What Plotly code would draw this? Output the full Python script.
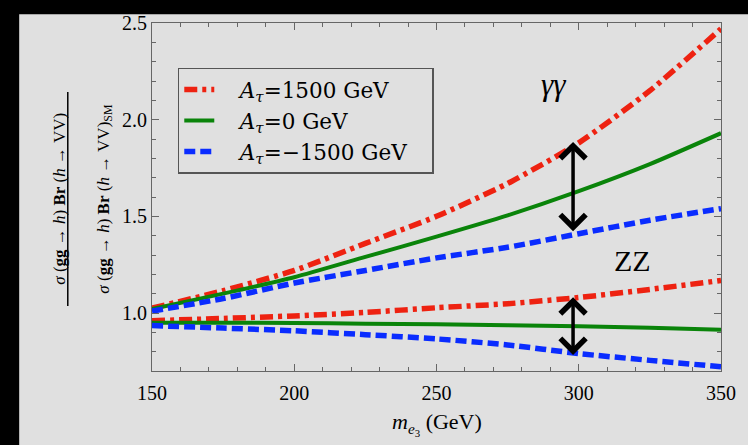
import plotly.graph_objects as go

# ---- data ----
m_e3 = [150, 175, 200, 225, 250, 275, 300, 325, 350]

gg_At_p1500 = [1.025, 1.115, 1.22, 1.36, 1.50, 1.67, 1.88, 2.15, 2.47]
gg_At_0 = [1.02, 1.10, 1.185, 1.29, 1.395, 1.505, 1.63, 1.77, 1.93]
gg_At_m1500 = [1.01, 1.075, 1.155, 1.22, 1.285, 1.34, 1.41, 1.48, 1.54]

zz_At_p1500 = [0.96, 0.972, 0.985, 1.003, 1.027, 1.048, 1.08, 1.122, 1.168]
zz_At_0 = [0.95, 0.95, 0.948, 0.945, 0.942, 0.937, 0.932, 0.924, 0.914]
zz_At_m1500 = [0.935, 0.922, 0.908, 0.888, 0.866, 0.835, 0.79, 0.755, 0.722]

legend_names = ["\u00a0\u00a0\u00a0<i>A</i><sub><i>τ</i></sub>=1500 GeV",
                "\u00a0\u00a0\u00a0<i>A</i><sub><i>τ</i></sub>=0 GeV",
                "\u00a0\u00a0\u00a0<i>A</i><sub><i>τ</i></sub>=−1500 GeV\u00a0\u00a0\u00a0"]

x_ticks = [150, 200, 250, 300, 350]
y_ticks = [1.0, 1.5, 2.0, 2.5]
y_ticktext = ["1.0", "1.5", "2.0", "2.5"]

arrow_x = 298
gg_arrow = (1.885, 1.415)
zz_arrow = (1.082, 0.775)

# ---- styling ----
RED = "#ee2211"
GREEN = "#0a840a"
BLUE = "#0a2cff"
GRAY = "#e0e0e0"
AXC = "#666666"
SERIF = "Liberation Serif, Times New Roman, serif"
LEGSERIF = "DejaVu Serif, serif"

red_dash = "13px,5px,4px,5px"
blue_dash = "11px,5px"

fig = go.Figure()

series = [
    (gg_At_p1500, RED, red_dash, 5.5, legend_names[0], True),
    (gg_At_0, GREEN, "solid", 4, legend_names[1], True),
    (gg_At_m1500, BLUE, blue_dash, 5.5, legend_names[2], True),
    (zz_At_p1500, RED, red_dash, 5.5, legend_names[0], False),
    (zz_At_0, GREEN, "solid", 4, legend_names[1], False),
    (zz_At_m1500, BLUE, blue_dash, 5.5, legend_names[2], False),
]
for ys, col, dash, w, name, show in series:
    fig.add_trace(go.Scatter(
        x=m_e3, y=ys, mode="lines", name=name, showlegend=show,
        line=dict(color=col, dash=dash, width=w, shape="spline", smoothing=0.6),
    ))

# arrows
for top, bot in (gg_arrow, zz_arrow):
    fig.add_annotation(
        x=arrow_x, y=top, ax=arrow_x, ay=bot, xref="x", yref="y",
        axref="x", ayref="y", text="", showarrow=True,
        arrowside="end+start", arrowhead=4, startarrowhead=4,
        arrowsize=1.4, startarrowsize=1.4, arrowwidth=3.5,
        arrowcolor="black", standoff=0, startstandoff=0,
    )

# labels
fig.add_annotation(x=291, y=2.18, xref="x", yref="y", text="<i>γγ</i>",
                   showarrow=False, font=dict(family=SERIF, size=31, color="black"))
fig.add_annotation(x=319, y=1.27, xref="x", yref="y", text="ZZ",
                   showarrow=False, font=dict(family=SERIF, size=30, color="black"))

# y-axis title as a fraction
num = "<i>σ</i> (<b>gg</b> → <i>h</i>) <b>Br</b> (<i>h</i> → VV)"
den = "<i>σ</i> (<b>gg</b> → <i>h</i>) <b>Br</b> (<i>h</i> → VV)<sub>SM</sub>"
fig.add_annotation(x=-0.183, y=0.496, xref="paper", yref="paper", text=num,
                   textangle=-90, showarrow=False,
                   font=dict(family=SERIF, size=17, color="black"))
fig.add_annotation(x=-0.105, y=0.496, xref="paper", yref="paper", text=den,
                   textangle=-90, showarrow=False,
                   font=dict(family=SERIF, size=17, color="black"))
fig.add_shape(type="line", xref="paper", yref="paper",
              x0=-0.148, x1=-0.148, y0=0.187, y1=0.802,
              line=dict(color="black", width=1.5))

# x-axis title
fig.add_annotation(x=0.5, y=-0.152, xref="paper", yref="paper",
                   text="<i>m</i><sub><i>e</i><sub>3</sub></sub> (GeV)",
                   showarrow=False, yanchor="middle",
                   font=dict(family=SERIF, size=22, color="black"))

# gray panel over black background
fig.add_shape(type="rect", xref="paper", yref="paper", layer="below",
              x0=-0.2334, x1=1.1, y0=-0.3, y1=1.0255,
              line=dict(width=0), fillcolor=GRAY)

axis_common = dict(
    showline=True, mirror="allticks", linecolor=AXC, linewidth=1,
    ticks="inside", ticklen=7, tickwidth=1, tickcolor=AXC,
    showgrid=False, zeroline=False,
    tickfont=dict(family=SERIF, size=20, color="black"),
)

fig.update_xaxes(range=[150, 350], tickvals=x_ticks,
                 minor=dict(dtick=10, ticklen=4, tickcolor=AXC, ticks="inside", showgrid=False),
                 ticklabelstandoff=4, **axis_common)
fig.update_yaxes(range=[0.7, 2.5], tickvals=y_ticks, ticktext=y_ticktext,
                 minor=dict(dtick=0.1, tick0=0, ticklen=4, tickcolor=AXC, ticks="inside", showgrid=False),
                 **axis_common)

fig.update_layout(
    width=748, height=445,
    margin=dict(l=152, r=22, t=18, b=74),
    paper_bgcolor="black", plot_bgcolor=GRAY,
    showlegend=True,
    legend=dict(
        x=0.0453, y=0.872, xanchor="left", yanchor="top",
        bgcolor=GRAY, bordercolor="#555555", borderwidth=1.5,
        font=dict(family=LEGSERIF, size=21.5, color="black"),
        itemwidth=30, tracegroupgap=0,
    ),
)

fig.write_html(
    "out.html",
    config={"displayModeBar": False},
    post_script="document.body.style.margin='0';document.body.style.background='black';",
)
